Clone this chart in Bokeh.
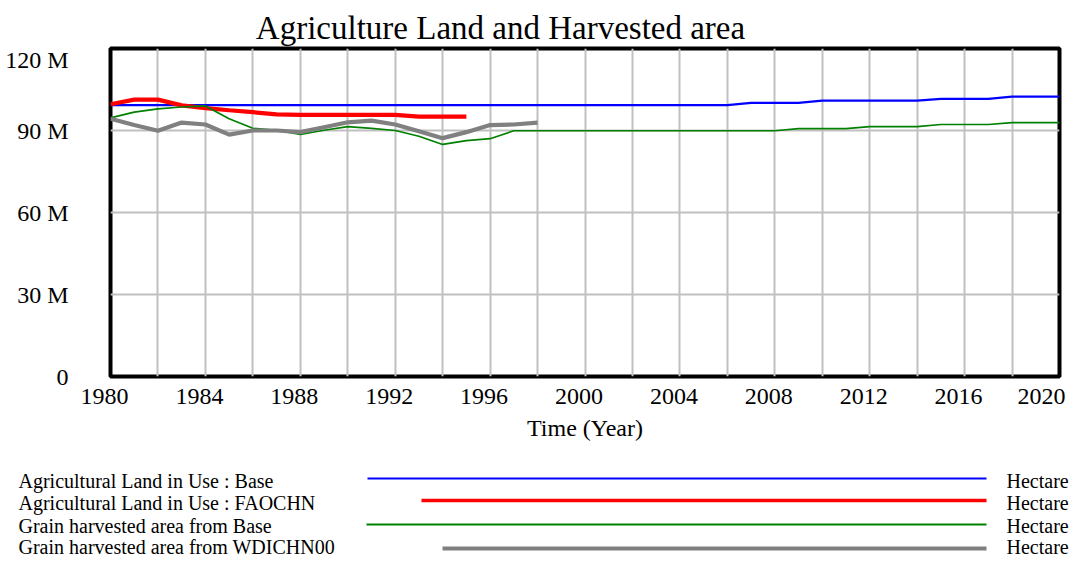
from bokeh.plotting import figure
from bokeh.models import Range1d, FixedTicker
from bokeh.embed import file_html
from bokeh.resources import INLINE
from bokeh.core.properties import value

# ---------------- data (million hectares) ----------------
years_base = list(range(1980, 2021))
years_fao = list(range(1980, 1996))
years_wdi = list(range(1980, 1999))

agri_land_base = [
    99.3, 99.3, 99.3, 99.3, 99.3, 99.3, 99.3, 99.3, 99.3, 99.3,
    99.3, 99.3, 99.3, 99.3, 99.3, 99.3, 99.3, 99.3, 99.3, 99.3,
    99.3, 99.3, 99.3, 99.3, 99.3, 99.3, 99.3, 100.1, 100.1, 100.1,
    100.9, 100.9, 100.9, 100.9, 100.9, 101.6, 101.6, 101.6, 102.4, 102.4,
    102.4,
]
agri_land_fao = [
    99.6, 101.3, 101.3, 99.2, 98.2, 97.4, 96.7, 95.9, 95.7, 95.7,
    95.7, 95.7, 95.7, 95.1, 95.1, 95.1,
]
grain_base = [
    94.6, 96.7, 97.9, 98.6, 99.0, 94.3, 90.8, 90.1, 88.6, 90.1,
    91.4, 90.8, 90.0, 87.9, 84.9, 86.3, 87.0, 89.9, 89.9, 89.9,
    89.9, 89.9, 89.9, 89.9, 89.9, 89.9, 89.9, 89.9, 89.9, 90.7,
    90.7, 90.7, 91.4, 91.4, 91.4, 92.2, 92.2, 92.2, 92.9, 92.9,
    92.9,
]
grain_wdi = [
    94.3, 92.0, 89.9, 92.9, 92.2, 88.5, 90.0, 90.0, 89.4, 91.2,
    93.0, 93.6, 92.2, 89.7, 87.2, 89.4, 92.0, 92.2, 92.9,
]

x_ticks = [1980, 1984, 1988, 1992, 1996, 2000, 2004, 2008, 2012, 2016, 2020]
x_tick_labels = ["1980", "1984", "1988", "1992", "1996", "2000", "2004", "2008", "2012", "2016", "2020"]
y_ticks = [0, 30, 60, 90, 120]
y_tick_labels = ["0", "30 M", "60 M", "90 M", "120 M"]

series_names = [
    "Agricultural Land in Use : Base",
    "Agricultural Land in Use : FAOCHN",
    "Grain harvested area from Base",
    "Grain harvested area from WDICHN00",
]
series_units = ["Hectare", "Hectare", "Hectare", "Hectare"]
series_colors = ["#0000ff", "#ff0000", "#008000", "#808080"]

TITLE = "Agriculture Land and Harvested area"
X_LABEL = "Time (Year)"
FONT = "Liberation Serif"
W = 1077


def blank(height):
    f = figure(width=W, height=height, x_range=Range1d(0, W), y_range=Range1d(height, 0),
               output_backend="svg", toolbar_location=None,
               x_axis_location=None, y_axis_location=None, min_border=0)
    f.grid.visible = False
    f.outline_line_color = None
    f.background_fill_color = "white"
    f.border_fill_color = "white"
    return f


# ---------------- title strip ----------------
TH = 46
tf = blank(TH)
tf.text(x=[500], y=[27], text=[TITLE], text_font=value(FONT), text_font_size="33px",
        text_align="center", text_baseline="alphabetic", text_color="black")

# ---------------- main chart ----------------
H = 414
ML, MR, MT, MB = 110, 18, 2, 84

p = figure(width=W, height=H, x_range=Range1d(1980, 2020), y_range=Range1d(0, 120),
           output_backend="svg", toolbar_location=None,
           min_border_left=ML, min_border_right=MR, min_border_top=MT, min_border_bottom=MB)
p.background_fill_color = "white"
p.border_fill_color = "white"
p.outline_line_color = "black"
p.outline_line_width = 4

p.xaxis.ticker = FixedTicker(ticks=x_ticks)
# en-space after each year nudges the label left of its tick, as in the reference
p.xaxis.major_label_overrides = {t: s + "\u2002" for t, s in zip(x_ticks, x_tick_labels)}
p.yaxis.ticker = FixedTicker(ticks=y_ticks)
p.yaxis.major_label_overrides = dict(zip(y_ticks, y_tick_labels))
p.xgrid.ticker = FixedTicker(ticks=list(range(1982, 2020, 2)))
p.ygrid.ticker = FixedTicker(ticks=y_ticks[1:-1])
for g in (p.xgrid, p.ygrid):
    g.grid_line_color = "#c0c0c0"
    g.grid_line_width = 2

for ax in (p.xaxis, p.yaxis):
    ax.axis_line_color = None
    ax.major_tick_line_color = None
    ax.minor_tick_line_color = None
    ax.major_tick_out = 0
    ax.major_tick_in = 0
    ax.major_label_text_font = FONT
    ax.major_label_text_font_size = "24px"
    ax.major_label_text_color = "black"
p.xaxis.major_label_standoff = 6
p.yaxis.major_label_standoff = 42
p.xaxis.axis_label = X_LABEL
p.xaxis.axis_label_text_font = FONT
p.xaxis.axis_label_text_font_size = "24px"
p.xaxis.axis_label_text_font_style = "normal"
p.xaxis.axis_label_text_color = "black"
p.xaxis.axis_label_standoff = 3

p.line(years_base, agri_land_base, line_color=series_colors[0], line_width=2.2)
p.line(years_fao, agri_land_fao, line_color=series_colors[1], line_width=4.2)
p.line(years_base, grain_base, line_color=series_colors[2], line_width=1.7)
p.line(years_wdi, grain_wdi, line_color=series_colors[3], line_width=4.2)

# ---------------- legend strip ----------------
LH = 561 - TH - H
lg = blank(LH)
line_row_y = [18, 40, 64, 88]
text_row_y = [20, 42, 65, 86]   # text middles
line_start = [367, 421, 366, 442]
line_end = 986
line_w = [2, 3.6, 2, 4]
text_x = 18
unit_x = 1006

for i in range(4):
    lg.line([line_start[i], line_end], [line_row_y[i], line_row_y[i]],
            line_color=series_colors[i], line_width=line_w[i])
lg.text(x=[text_x] * 4, y=text_row_y, text=series_names,
        text_font=value(FONT), text_font_size="20px", text_baseline="middle", text_color="black")
lg.text(x=[unit_x] * 4, y=text_row_y, text=series_units,
        text_font=value(FONT), text_font_size="20px", text_baseline="middle", text_color="black")

open("out.html", "w").write(file_html([tf, p, lg], INLINE))
